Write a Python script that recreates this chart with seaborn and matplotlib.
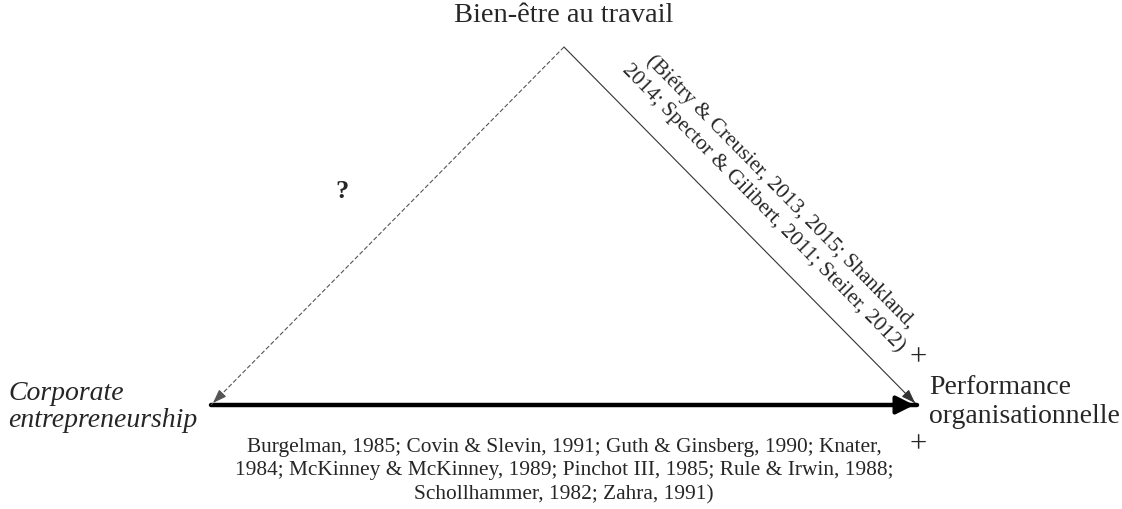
import pandas as pd
import matplotlib.pyplot as plt
import seaborn as sns

# Nodes of the diagram (label, anchor point in pixel space)
node_names = ["wellbeing", "ce", "perf"]
node_x = [564, 211, 917]
node_y = [48, 406, 406]

# Links between nodes
edge_from = ["wellbeing", "wellbeing", "ce"]
edge_to = ["ce", "perf", "perf"]
edge_kind = ["unknown", "known", "main"]

title_top = "Bien-être au travail"
label_left = "Corporate\nentrepreneurship"
label_right = "Performance\norganisationnelle"
refs_right = ("(Biétry & Creusier, 2013, 2015; Shankland,\n"
              "2014; Spector & Gilibert, 2011; Steiler, 2012)")
refs_bottom = ("Burgelman, 1985; Covin & Slevin, 1991; Guth & Ginsberg, 1990; Knater,\n"
               "1984; McKinney & McKinney, 1989; Pinchot III, 1985; Rule & Irwin, 1988;\n"
               "Schollhammer, 1982; Zahra, 1991)")

sns.set_theme(style="white")
plt.rcParams["font.family"] = ["Liberation Serif", "DejaVu Serif"]

pos = dict(zip(node_names, zip(node_x, node_y)))
rows = []
for i, (a, b) in enumerate(zip(edge_from, edge_to)):
    rows.append({"edge": i, "kind": edge_kind[i], "x": pos[a][0], "y": pos[a][1]})
    rows.append({"edge": i, "kind": edge_kind[i], "x": pos[b][0], "y": pos[b][1]})
edges = pd.DataFrame(rows)

fig = plt.figure(figsize=(11.22, 5.10), dpi=100)
ax = fig.add_axes([0, 0, 1, 1])

styles = {
    "unknown": dict(color="#555555", lw=0.8, ls=(0, (4, 2))),
    "known": dict(color="#333333", lw=0.8, ls="-"),
    "main": dict(color="black", lw=3.2, ls="-"),
}
for kind, sub in edges.groupby("kind"):
    st = styles[kind]
    sns.lineplot(data=sub, x="x", y="y", units="edge", estimator=None,
                 sort=False, color=st["color"], linewidth=st["lw"],
                 linestyle=st["ls"], ax=ax)

# arrowheads
for a, b, kind in zip(edge_from, edge_to, edge_kind):
    (x0, y0), (x1, y1) = pos[a], pos[b]
    if kind == "main":
        head = dict(arrowstyle="-|>,head_length=0.9,head_width=0.45", color="black", lw=3)
    else:
        head = dict(arrowstyle="-|>,head_length=0.7,head_width=0.25",
                    color=styles[kind]["color"], lw=0.8)
    fx = x1 - (x1 - x0) * 0.03
    fy = y1 - (y1 - y0) * 0.03
    ax.annotate("", xy=(x1, y1), xytext=(fx, fy), arrowprops=head)

ax.set_xlim(0, 1122)
ax.set_ylim(510, 0)
ax.axis("off")

ax.text(564, 16, title_top, ha="center", va="center", fontsize=20.5)
ax.text(8, 407, label_left, ha="left", va="center", fontsize=20,
        style="italic", linespacing=1.15)
ax.text(929, 402, label_right, ha="left", va="center", fontsize=20,
        linespacing=1.2)
ax.text(342, 192, "?", ha="center", va="center", fontsize=19, fontweight="bold")
ax.text(772, 200, refs_right, ha="center", va="center", fontsize=15.5,
        rotation=-45.5, rotation_mode="anchor", linespacing=1.26)
ax.text(918, 358, "+", ha="center", va="center", fontsize=22)
ax.text(918, 445, "+", ha="center", va="center", fontsize=22)
ax.text(564, 471, refs_bottom, ha="center", va="center", fontsize=15.4,
        linespacing=1.34)

fig.savefig("out.png", dpi=100)
